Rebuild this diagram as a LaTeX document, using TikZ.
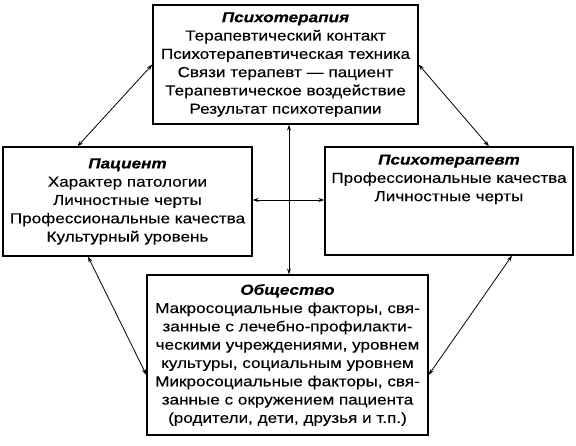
\documentclass[tikz,border=0pt]{standalone}
\usepackage{fontspec}
\setmainfont{Liberation Sans}[FakeStretch=1.18,FakeBold=0.25]
\usetikzlibrary{arrows.meta,calc}

\tikzset{
  box/.style={draw, line width=1.2pt, align=center, inner sep=0pt,
    font=\fontsize{14.5}{18.3}\selectfont},
  boxtext/.style={align=center, inner sep=0pt, font=\fontsize{14.5}{18.3}\selectfont},
  link/.style={{Stealth[length=6pt,width=4pt]}-{Stealth[length=6pt,width=4pt]}, line width=0.8pt}
}
\newcommand{\heading}[1]{\textbf{\textit{#1}}}

\begin{document}
\begin{tikzpicture}[x=1pt,y=-1pt]
        \useasboundingbox (0,0) rectangle (576,446);

        % the four boxes
        \node [box, minimum width=265pt, minimum height=119pt] (therapy) at (285.5,64.5)
          {\heading{Психотерапия}\\ Терапевтический контакт\\ Психотерапевтическая техника\\
           Связи терапевт --- пациент\\ Терапевтическое воздействие\\ Результат психотерапии};

        \node [box, minimum width=249pt, minimum height=109pt] (patient) at (127.5,201.5)
          {\heading{Пациент}\\ Характер патологии\\ Личностные черты\\
           Профессиональные качества\\ Культурный уровень};

        \node [box, minimum width=248pt, minimum height=108pt] (therapist) at (449,201) {};
        \node [boxtext, anchor=north] (therapist-text) at ([yshift=-8pt]therapist.north)
          {\heading{Психотерапевт}\\ Профессиональные качества\\ Личностные черты};

        \node [box, minimum width=281pt, minimum height=160pt] (society) at (287.5,355)
          {\heading{Общество}\\ Макросоциальные факторы, свя-\\ занные с лечебно-профилакти-\\
           ческими учреждениями, уровнем\\ культуры, социальным уровнем\\
           Микросоциальные факторы, свя-\\ занные с окружением пациента\\
           (родители, дети, друзья и т.п.)};

        % diagonal links
        \draw [link] (therapy.west) -- ([xshift=-50pt]patient.north);
        \draw [link] (therapy.east) -- ([xshift=40pt]therapist.north);
        \draw [link] ([xshift=-39.5pt]patient.south) -- ([yshift=-20pt]society.west);
        \draw [link] ([xshift=63pt]therapist.south) -- ([yshift=-20pt]society.east);

        % central cross
        \coordinate (cross) at (289,200);
        \draw [link] (cross |- therapy.south) -- (cross |- society.north);
        \draw [link] (cross -| patient.east) -- (cross -| therapist.west);
\end{tikzpicture}
\end{document}
